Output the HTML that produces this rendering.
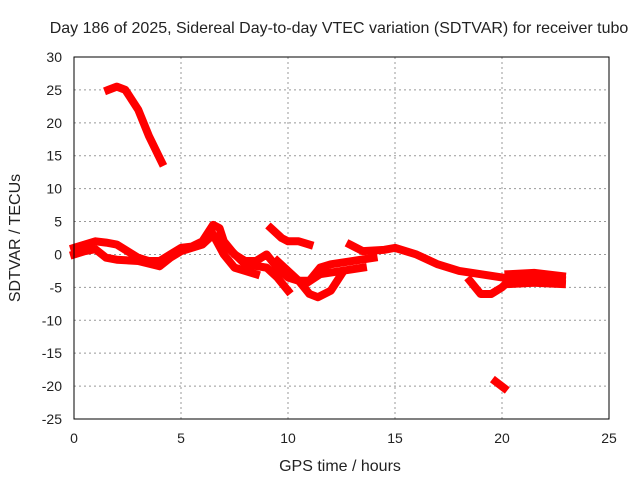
<!DOCTYPE html>
<html><head><meta charset="utf-8"><style>
body{margin:0;background:#fff}
svg text{font-family:"Liberation Sans",sans-serif;font-size:14px;fill:#222}
svg text.big{font-size:16px}
</style></head><body>
<svg id="c" width="640" height="480">
<rect width="640" height="480" fill="#fff"/>
<text class="big" x="339" y="33" text-anchor="middle">Day 186 of 2025, Sidereal Day-to-day VTEC variation (SDTVAR) for receiver tubo</text>
<text class="big" x="340" y="471" text-anchor="middle">GPS time / hours</text>
<text class="big" transform="translate(20,238) rotate(-90)" text-anchor="middle">SDTVAR / TECUs</text>
<g id="grid"></g><g id="series"></g>
<rect x="74" y="57" width="535" height="362" fill="none" stroke="#000" stroke-width="1"/>
</svg>
<script>
const xTicks=[0,5,10,15,20,25];
const yTicks=[30,25,20,15,10,5,0,-5,-10,-15,-20,-25];
const seg1=[[1.6,25],[2,25.5],[2.4,25],[3,22],[3.5,18],[4.1,14]];
const seg2=[[0,1],[0.5,1.5],[1,2],[1.5,1.8],[2,1.5],[2.5,0.5],[3,-0.5],[3.5,-1],[4,-1],[4.5,0],[5,1],[5.5,1.2],[6,2],[6.5,4.5],[6.8,4],[7,2],[7.5,0],[8,-1],[8.5,-1],[9,0],[9.5,-2],[10,-3.5],[10.5,-4],[11,-4],[11.5,-2],[12,-1.5],[13,-1],[14,-0.5]];
const seg3=[[0,0],[0.5,0.5],[1,0.8],[1.5,-0.5],[2,-0.8],[3,-1],[4,-1.8],[4.5,-0.5],[5,0.5],[6,1.5],[6.5,3]];
const seg4=[[6.5,3],[7,0],[7.5,-2],[8,-2.5],[8.5,-3]];
const seg5=[[7.2,1],[8,-1.5],[9,-2],[9.5,-3.5],[10,-5.5]];
const seg6=[[9.2,4],[9.7,2.5],[10,2],[10.5,2],[11,1.5]];
const seg7=[[9.5,-1],[10.5,-4],[11,-6],[11.4,-6.5],[12,-5.5],[12.5,-3]];
const seg8=[[10.8,-4.5],[11.5,-3],[12.5,-2.5],[13.5,-2]];
const seg9=[[12.9,1.5],[13.5,0.5],[14.5,0.7],[15,1],[16,0],[17,-1.5],[18,-2.5],[19,-3],[20,-3.5]];
const seg10=[[18.5,-4],[19,-6],[19.5,-6],[20,-5],[20.5,-3.5]];
const seg11=[[20.3,-3],[21.5,-2.8],[22.8,-3.3]];
const seg12=[[20.3,-4.5],[21.5,-4.3],[22.8,-4.5]];
const seg14=[[20.3,-3.8],[21.5,-3.6],[22.8,-3.9]];
const seg13=[[19.7,-19.3],[20.1,-20.3]];
const allSegs=[seg1,seg2,seg3,seg4,seg5,seg6,seg7,seg8,seg9,seg10,seg11,seg12,seg14,seg13];
const X=v=>74+v*535/25, Y=v=>57+(30-v)*362/55;
const NS="http://www.w3.org/2000/svg";
const g=document.getElementById('grid'), s=document.getElementById('series'), svg=document.getElementById('c');
function mk(t,a){const e=document.createElementNS(NS,t);for(const k in a)e.setAttribute(k,a[k]);return e;}
xTicks.forEach(v=>{
 if(v>0&&v<25){const l=mk('line',{x1:X(v),x2:X(v),y1:57,y2:419,stroke:'#999','stroke-dasharray':'2,3'});
 
 g.appendChild(l);}
 const t=mk('text',{x:X(v),y:443,'text-anchor':'middle'});t.textContent=v;
 
 svg.appendChild(t);
});
yTicks.forEach(v=>{
 if(v<30&&v>-25){const l=mk('line',{x1:74,x2:609,y1:Y(v),y2:Y(v),stroke:'#999','stroke-dasharray':'2,3'});
 
 g.appendChild(l);}
 const t=mk('text',{x:62,y:Y(v)+5,'text-anchor':'end'});t.textContent=v;
 
 svg.appendChild(t);
});
allSegs.forEach(sg=>{
 const p=mk('polyline',{points:sg.map(d=>X(d[0])+','+Y(d[1])).join(' '),fill:'none',stroke:'#f00','stroke-width':8,'stroke-linejoin':'round','stroke-linecap':'square'});
 
 
 s.appendChild(p);
});
</script>
</body></html>
